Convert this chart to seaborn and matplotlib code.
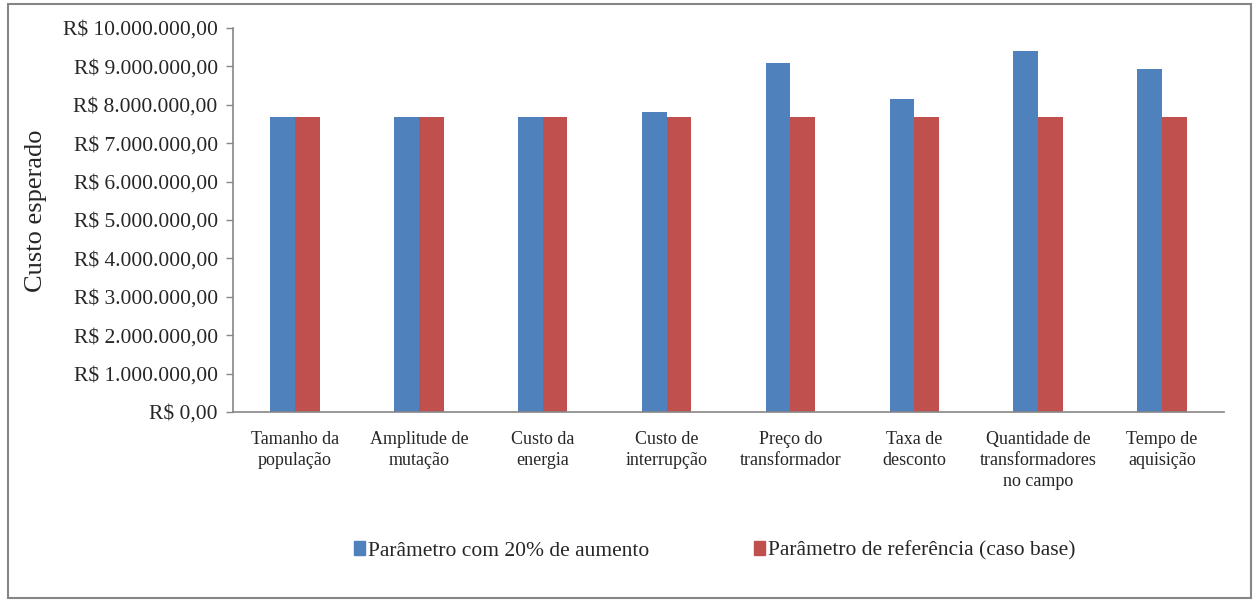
import matplotlib
matplotlib.use("Agg")
import matplotlib.pyplot as plt
import matplotlib.patches as mpatches
from matplotlib.ticker import FuncFormatter, MultipleLocator
import seaborn as sns
import pandas as pd

# data
categorias = [
    "Tamanho da\npopulação",
    "Amplitude de\nmutação",
    "Custo da\nenergia",
    "Custo de\ninterrupção",
    "Preço do\ntransformador",
    "Taxa de\ndesconto",
    "Quantidade de\ntransformadores\nno campo",
    "Tempo de\naquisição",
]
aumento_20 = [7670000, 7670000, 7690000, 7810000, 9080000, 8150000, 9390000, 8930000]
referencia = [7680000, 7680000, 7680000, 7680000, 7680000, 7680000, 7680000, 7680000]
series = ["Parâmetro com 20% de aumento", "Parâmetro de referência (caso base)"]
cores = ["#4F81BD", "#C0504D"]

df = pd.DataFrame({
    "categoria": categorias * 2,
    "custo": aumento_20 + referencia,
    "serie": [series[0]] * len(categorias) + [series[1]] * len(categorias),
})

sns.set_style("white")
plt.rcParams["font.family"] = ["Liberation Serif", "DejaVu Serif"]

fig = plt.figure(figsize=(12.57, 6), dpi=100)
ax = fig.add_axes([233 / 1257, 1 - 412 / 600, 991 / 1257, 384 / 600])

sns.barplot(data=df, x="categoria", y="custo", hue="serie", palette=cores,
            width=0.4, gap=0, ax=ax, edgecolor="none", saturation=1,
            legend=False)

ax.set_ylim(0, 10000000)
ax.set_xlim(-0.5, len(categorias) - 0.5)
ax.yaxis.set_major_locator(MultipleLocator(1000000))


def reais(v, pos):
    inteiro = f"{int(round(v)):,}".replace(",", ".")
    return f"R$ {inteiro},00"


ax.yaxis.set_major_formatter(FuncFormatter(reais))
ax.tick_params(axis="y", labelsize=15.5, length=5, width=1, color="#868686",
               left=True, pad=6)
ax.tick_params(axis="x", labelsize=13, length=0, pad=14)
for lab in ax.get_xticklabels():
    lab.set_linespacing(1.3)
ax.set_xlabel("")
ax.set_ylabel("")

for s in ["top", "right"]:
    ax.spines[s].set_visible(False)
for s in ["left", "bottom"]:
    ax.spines[s].set_color("#868686")
    ax.spines[s].set_linewidth(1.2)

fig.text(36 / 1257, 1 - 211 / 600, "Custo esperado", rotation=90,
         ha="center", va="center", fontsize=19)

handles = [mpatches.Patch(color=c, label=s) for c, s in zip(cores, series)]
fig.legend(handles=handles, loc="center", bbox_to_anchor=(715 / 1257, 1 - 551 / 600),
           ncol=2, frameon=False, fontsize=15.5, handlelength=0.5, handleheight=0.6,
           handletextpad=0.15, columnspacing=4.85)

borda = mpatches.Rectangle((8 / 1257, 2 / 600), 1243 / 1257, 594 / 600,
                           transform=fig.transFigure, fill=False,
                           edgecolor="#868686", linewidth=1.5)
fig.patches.append(borda)

fig.savefig("out.png", dpi=100)
